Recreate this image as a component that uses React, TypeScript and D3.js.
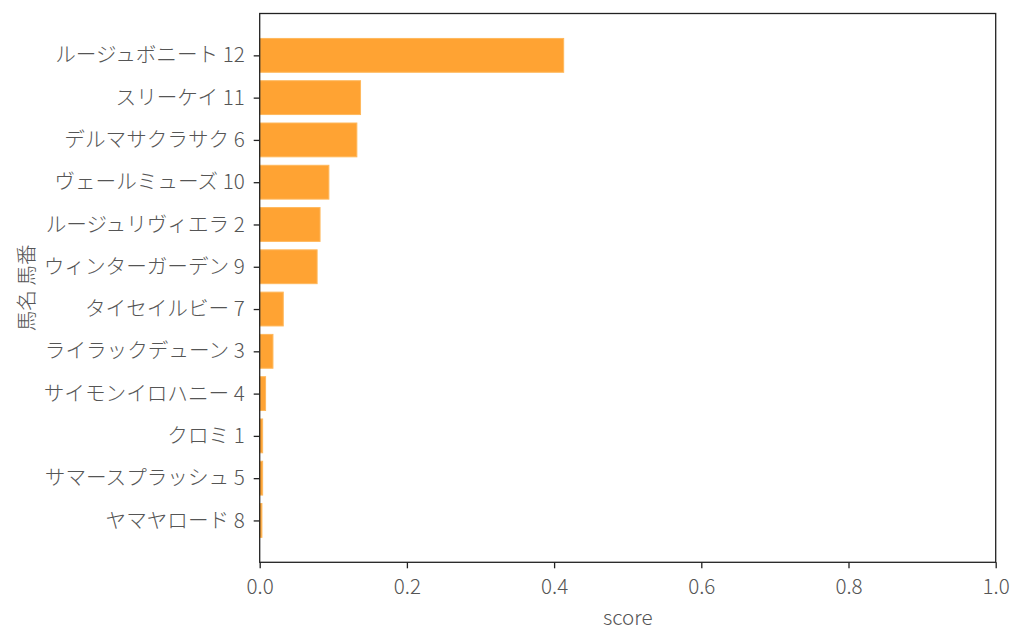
import * as d3 from "d3";
import { useEffect, useRef } from "react";

const horseNames = [
  "ルージュボニート 12",
  "スリーケイ 11",
  "デルマサクラサク 6",
  "ヴェールミューズ 10",
  "ルージュリヴィエラ 2",
  "ウィンターガーデン 9",
  "タイセイルビー 7",
  "ライラックデューン 3",
  "サイモンイロハニー 4",
  "クロミ 1",
  "サマースプラッシュ 5",
  "ヤマヤロード 8",
];
const scores = [0.413, 0.137, 0.132, 0.094, 0.082, 0.078, 0.032, 0.018, 0.008, 0.004, 0.004, 0.003];
const xTicks = [0, 0.2, 0.4, 0.6, 0.8, 1.0];

const W = 1024;
const H = 644;
const plot = { left: 259.7, right: 995.7, top: 13.5, bottom: 562.3 };
const FONT = "'Noto Sans CJK JP', 'Noto Sans', sans-serif";
const TEXT = "#555555";
const FS = "20.6px";

function App() {
  const ref = useRef<SVGSVGElement>(null);

  useEffect(() => {
    const svg = d3.select(ref.current);
    svg.selectAll("*").remove();

    const x = d3.scaleLinear().domain([0, 1]).range([plot.left, plot.right]);
    // matplotlib-like barh: index 0 on top, 5% margins
    const n = horseNames.length;
    const lo = -0.4 - 0.05 * (n - 1 + 0.8);
    const hi = n - 1 + 0.4 + 0.05 * (n - 1 + 0.8);
    const y = d3.scaleLinear().domain([lo, hi]).range([plot.top, plot.bottom]);
    const barH = y(0.8) - y(0);

    svg
      .append("g")
      .selectAll("rect")
      .data(scores)
      .enter()
      .append("rect")
      .attr("x", x(0))
      .attr("y", (_d, i) => y(i) - barH / 2)
      .attr("width", (d) => x(d) - x(0))
      .attr("height", barH)
      .attr("fill", "#ffa333")
      .attr("stroke", "#ffb85c")
      .attr("stroke-width", 1);

    // frame
    svg
      .append("rect")
      .attr("x", plot.left)
      .attr("y", plot.top)
      .attr("width", plot.right - plot.left)
      .attr("height", plot.bottom - plot.top)
      .attr("fill", "none")
      .attr("stroke", "#222")
      .attr("stroke-width", 1.3);

    // x axis
    const xAxis = svg
      .append("g")
      .attr("transform", `translate(0,${plot.bottom})`)
      .call(
        d3
          .axisBottom(x)
          .tickValues(xTicks)
          .tickFormat(d3.format(".1f"))
          .tickSize(6)
          .tickPadding(11)
      );
    xAxis.select(".domain").remove();
    xAxis.selectAll("line").attr("stroke", "#222").attr("stroke-width", 1.3);
    xAxis
      .selectAll("text")
      .attr("fill", TEXT)
      .style("font-family", FONT)
      .style("font-weight", 300)
      .style("font-size", FS);

    // y axis
    const yAxis = svg
      .append("g")
      .attr("transform", `translate(${plot.left},0)`)
      .call(
        d3
          .axisLeft(y)
          .tickValues(d3.range(n))
          .tickFormat((d) => horseNames[d as number])
          .tickSize(6)
          .tickPadding(9)
      );
    yAxis.select(".domain").remove();
    yAxis.selectAll("line").attr("stroke", "#222").attr("stroke-width", 1.3);
    yAxis
      .selectAll("text")
      .attr("fill", TEXT)
      .style("font-family", FONT)
      .style("font-weight", 300)
      .style("font-size", FS);

    svg
      .append("text")
      .attr("x", (plot.left + plot.right) / 2)
      .attr("y", 625)
      .attr("text-anchor", "middle")
      .attr("fill", TEXT)
      .style("font-family", FONT)
      .style("font-weight", 300)
      .style("font-size", FS)
      .text("score");

    svg
      .append("text")
      .attr("transform", `translate(34,${(plot.top + plot.bottom) / 2}) rotate(-90)`)
      .attr("text-anchor", "middle")
      .attr("fill", TEXT)
      .style("font-family", FONT)
      .style("font-weight", 300)
      .style("font-size", FS)
      .text("馬名 馬番");
  }, []);

  return (
    <svg
      ref={ref}
      width={W}
      height={H}
      style={{ position: "absolute", left: 0, top: 0, background: "#fff" }}
    />
  );
}

export default App;
